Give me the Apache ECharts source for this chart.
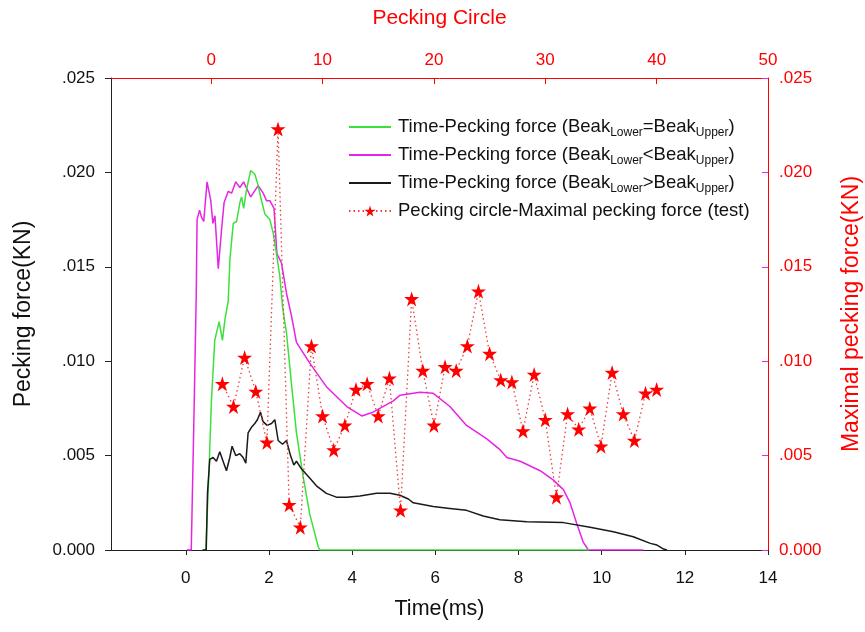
<!DOCTYPE html>
<html>
<head>
<meta charset="utf-8">
<script src="https://cdn.jsdelivr.net/npm/echarts@6/dist/echarts.min.js"></script>
<style>
html,body{margin:0;padding:0;background:#fff;}
#chart{width:865px;height:632px;}
</style>
</head>
<body>
<div id="chart"></div>
<script>
// Beak Lower = Beak Upper (green)
const timeEqual  = [0.48,0.50,0.56,0.615,0.695,0.80,0.88,0.94,1.02,1.06,1.14,1.22,1.30,1.34,1.39,1.46,1.56,1.66,1.74,1.82,1.90,2.02,2.10,2.18,2.26,2.33,2.42,2.54,2.66,2.82,2.98,3.18,3.22,9.70];
const forceEqual = [0,0,0.0044,0.0079,0.0111,0.0121,0.0111,0.0122,0.0132,0.0154,0.0173,0.0174,0.0184,0.0187,0.0181,0.0191,0.0201,0.0199,0.0193,0.0185,0.0178,0.0175,0.0168,0.0157,0.0145,0.0128,0.0115,0.0088,0.0062,0.0039,0.0019,0.0002,0,0];

// Beak Lower < Beak Upper (magenta)
const timeLess  = [0.02,0.13,0.19,0.25,0.27,0.33,0.38,0.43,0.51,0.60,0.65,0.70,0.78,0.86,0.92,1.02,1.10,1.20,1.30,1.39,1.56,1.74,1.86,1.94,2.02,2.12,2.16,2.19,2.30,2.42,2.54,2.66,2.98,3.38,3.87,4.23,4.50,4.99,5.15,5.63,5.95,6.35,6.75,7.23,7.56,7.72,8.04,8.52,8.84,9.08,9.24,9.40,9.56,9.68,11.0];
const forceLess = [0,0,0.0065,0.0135,0.0175,0.0180,0.0176,0.0174,0.0195,0.0185,0.0173,0.0177,0.0149,0.0170,0.0184,0.0190,0.0189,0.0195,0.0192,0.0195,0.0187,0.0193,0.0189,0.0185,0.0185,0.0181,0.0181,0.0157,0.0152,0.0136,0.0124,0.0110,0.0099,0.00865,0.0076,0.0071,0.0073,0.0079,0.0082,0.00835,0.0083,0.0076,0.0066,0.0059,0.0053,0.0049,0.0047,0.0042,0.0037,0.0032,0.0025,0.0014,0.0004,0,0];

// Beak Lower > Beak Upper (black)
const timeGreater  = [0.40,0.49,0.52,0.575,0.655,0.736,0.816,0.895,0.977,1.057,1.112,1.20,1.297,1.377,1.442,1.497,1.578,1.658,1.72,1.795,1.858,1.955,2.06,2.14,2.22,2.325,2.42,2.517,2.597,2.66,2.78,2.94,3.14,3.38,3.62,3.865,4.185,4.587,4.907,5.148,5.35,5.47,5.95,6.35,6.75,7.15,7.55,8.20,9.08,9.72,10.28,10.76,11.17,11.33,11.49,11.57];
const forceGreater = [0,0,0.0030,0.0048,0.0049,0.0047,0.0052,0.0047,0.0042,0.0049,0.0055,0.0050,0.0051,0.0049,0.0046,0.0062,0.0065,0.0067,0.0069,0.0073,0.0068,0.0066,0.0067,0.0069,0.0058,0.0056,0.0058,0.0050,0.0045,0.0047,0.0043,0.0039,0.0034,0.0030,0.0028,0.0028,0.00286,0.0030,0.0030,0.0029,0.0027,0.0025,0.0023,0.0022,0.0021,0.0018,0.0016,0.0015,0.00145,0.0012,0.00097,0.0007,0.00035,0.00026,0.00005,0];

// Pecking circle - maximal pecking force (test)
const peckCircle = [1,2,3,4,5,6,7,8,9,10,11,12,13,14,15,16,17,18,19,20,21,22,23,24,25,26,27,28,29,30,31,32,33,34,35,36,37,38,39,40];
const peckForce  = [0.0088,0.0076,0.0102,0.0084,0.0057,0.0223,0.0024,0.0012,0.0108,0.0071,0.0053,0.0066,0.0085,0.0088,0.0071,0.0091,0.0021,0.0133,0.0095,0.0066,0.0097,0.0095,0.0108,0.0137,0.0104,0.0090,0.0089,0.0063,0.0093,0.0069,0.0028,0.0072,0.0064,0.0075,0.0055,0.0094,0.0072,0.0058,0.0083,0.0085];

// Tick labels
const timeTicks   = [0,2,4,6,8,10,12,14];
const circleTicks = [0,10,20,30,40,50];

const legendLabels = {
  eq:   'Time-Pecking force (Beak{sub|Lower}=Beak{sub|Upper})',
  lt:   'Time-Pecking force (Beak{sub|Lower}<Beak{sub|Upper})',
  gt:   'Time-Pecking force (Beak{sub|Lower}>Beak{sub|Upper})',
  test: 'Pecking circle-Maximal pecking force (test)'
};

const zip = (a, b) => a.map((v, i) => [v, b[i]]);
const FONT = '"Liberation Sans", Arial, sans-serif';
const STAR = 'path://M50,2 L61.8,38.2 L99.9,38.2 L69.1,60.6 L80.9,96.9 L50,74.5 L19.1,96.9 L30.9,60.6 L0.1,38.2 L38.2,38.2 Z';
const fmtY = v => v === 0 ? '0.000' : v.toFixed(3).replace(/^0/, '');
const noSymbol = {color: 'rgba(0,0,0,0)', borderWidth: 0, opacity: 0};

const chart = echarts.init(document.getElementById('chart'), null, {renderer: 'canvas'});
chart.setOption({
  animation: false,
  backgroundColor: '#fff',
  textStyle: {fontFamily: FONT},
  grid: {left: 111, right: 97, top: 78, bottom: 82, containLabel: false, outerBoundsMode: 'none'},
  legend: {
    orient: 'vertical',
    left: 343,
    top: 110,
    itemWidth: 42,
    itemHeight: 14,
    itemGap: 4,
    selectedMode: false,
    data: [
      {name: 'eq', itemStyle: noSymbol},
      {name: 'lt', itemStyle: noSymbol},
      {name: 'gt', itemStyle: noSymbol},
      {name: 'test'}
    ],
    formatter: name => legendLabels[name],
    textStyle: {
      fontFamily: FONT, fontSize: 18.5, color: '#111', lineHeight: 24, padding: [0, 0, 0, 2],
      rich: {sub: {fontFamily: FONT, fontSize: 12, lineHeight: 12, verticalAlign: 'bottom', color: '#111'}}
    }
  },
  xAxis: [
    {
      type: 'value', position: 'bottom', min: -1.8, max: 14,
      name: 'Time(ms)', nameLocation: 'middle', nameGap: 48,
      nameTextStyle: {fontFamily: FONT, fontSize: 21.5, color: '#111'},
      axisLine: {show: true, onZero: false, lineStyle: {color: '#222', width: 1}},
      axisTick: {show: true, inside: false, length: 5, customValues: timeTicks, lineStyle: {color: '#222'}},
      axisLabel: {show: true, margin: 20, fontFamily: FONT, fontSize: 17, color: '#111', customValues: timeTicks},
      splitLine: {show: false}
    },
    {
      type: 'value', position: 'top', min: -9, max: 50,
      name: 'Pecking Circle', nameLocation: 'middle', nameGap: 49,
      nameTextStyle: {fontFamily: FONT, fontSize: 21, color: '#ff0000'},
      axisLine: {show: true, onZero: false, lineStyle: {color: '#ff0000', width: 1}},
      axisTick: {show: true, inside: true, length: 6, customValues: circleTicks, lineStyle: {color: '#ff0000'}},
      axisLabel: {show: true, margin: 9, fontFamily: FONT, fontSize: 17, color: '#ff0000', customValues: circleTicks},
      splitLine: {show: false}
    }
  ],
  yAxis: [
    {
      type: 'value', position: 'left', min: 0, max: 0.025, interval: 0.005,
      name: 'Pecking force(KN)', nameLocation: 'middle', nameGap: 76, nameRotate: 90,
      nameTextStyle: {fontFamily: FONT, fontSize: 23, color: '#111'},
      axisLine: {show: true, onZero: false, lineStyle: {color: '#222', width: 1}},
      axisTick: {show: true, inside: false, length: 6, lineStyle: {color: '#222'}},
      axisLabel: {show: true, margin: 16, fontFamily: FONT, fontSize: 17, color: '#111', formatter: fmtY},
      splitLine: {show: false}
    },
    {
      type: 'value', position: 'right', min: 0, max: 0.025, interval: 0.005,
      name: 'Maximal pecking force(KN)', nameLocation: 'middle', nameGap: 72, nameRotate: 90,
      nameTextStyle: {fontFamily: FONT, fontSize: 23, color: '#ff0000'},
      axisLine: {show: true, onZero: false, lineStyle: {color: '#ff0000', width: 1}},
      axisTick: {show: true, inside: true, length: 6, lineStyle: {color: '#ee22ee'}},
      axisLabel: {show: true, margin: 11, fontFamily: FONT, fontSize: 17, color: '#ff0000', formatter: fmtY},
      splitLine: {show: false}
    }
  ],
  series: [
    {
      name: 'eq', type: 'line', xAxisIndex: 0, yAxisIndex: 0,
      data: zip(timeEqual, forceEqual), symbol: 'none', smooth: false,
      lineStyle: {color: '#3ce03c', width: 1.5}, itemStyle: {color: '#3ce03c'}, z: 3
    },
    {
      name: 'lt', type: 'line', xAxisIndex: 0, yAxisIndex: 0,
      data: zip(timeLess, forceLess), symbol: 'none', smooth: false,
      lineStyle: {color: '#e624e6', width: 1.5}, itemStyle: {color: '#e624e6'}, z: 2
    },
    {
      name: 'gt', type: 'line', xAxisIndex: 0, yAxisIndex: 0,
      data: zip(timeGreater, forceGreater), symbol: 'none', smooth: false,
      lineStyle: {color: '#1a1a1a', width: 1.5}, itemStyle: {color: '#1a1a1a'}, z: 4
    },
    {
      name: 'test', type: 'line', xAxisIndex: 1, yAxisIndex: 1,
      data: zip(peckCircle, peckForce), symbol: STAR, symbolSize: 15, showSymbol: true,
      lineStyle: {color: '#e84040', width: 1.3, type: [1.5, 3]},
      itemStyle: {color: '#ff0000', borderWidth: 0}, z: 5
    }
  ]
});
</script>
</body>
</html>
